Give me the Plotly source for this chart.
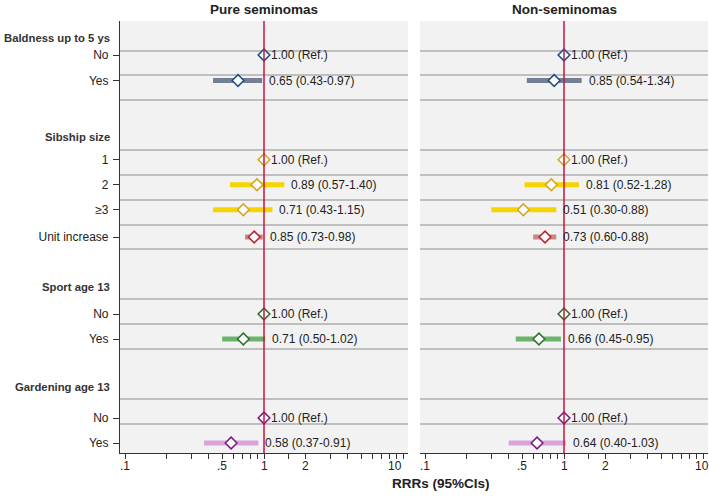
import math
import plotly.graph_objects as go

# ---------------- data ----------------
headers = ["Baldness up to 5 ys", "Sibship size", "Sport age 13", "Gardening age 13"]
header_pos = [0.68, 4.64, 10.64, 14.64]

row_labels = ["No", "Yes", "1", "2", "\u22653", "Unit increase", "No", "Yes", "No", "Yes"]
row_group = [0, 0, 1, 1, 1, 2, 3, 3, 4, 4]
row_pos = [1.36, 2.38, 5.55, 6.55, 7.55, 8.64, 11.72, 12.72, 15.88, 16.88]
gridline_pos = [1.2, 2.16, 3.16, 5.16, 6.16, 7.16, 8.16, 9.12, 11.12, 12.12, 13.12, 15.12, 16.12]

# Pure seminomas
pure_est = [1.00, 0.65, 1.00, 0.89, 0.71, 0.85, 1.00, 0.71, 1.00, 0.58]
pure_lo = [1.00, 0.43, 1.00, 0.57, 0.43, 0.73, 1.00, 0.50, 1.00, 0.37]
pure_hi = [1.00, 0.97, 1.00, 1.40, 1.15, 0.98, 1.00, 1.02, 1.00, 0.91]
# Non-seminomas
non_est = [1.00, 0.85, 1.00, 0.81, 0.51, 0.73, 1.00, 0.66, 1.00, 0.64]
non_lo = [1.00, 0.54, 1.00, 0.52, 0.30, 0.60, 1.00, 0.45, 1.00, 0.40]
non_hi = [1.00, 1.34, 1.00, 1.28, 0.88, 0.88, 1.00, 0.95, 1.00, 1.03]

bar_colors = ["#737f94", "#f7d300", "#c48a8a", "#6cb36c", "#dba2dc"]
marker_colors = ["#1c4e86", "#d6a425", "#c0202e", "#2f6e2f", "#7d1a80"]

x_tickvals = [0.1, 0.2, 0.3, 0.4, 0.5, 0.6, 0.7, 0.8, 0.9, 1, 1.5, 2, 3, 4, 5, 6, 7, 8, 9, 10]
x_ticktext = [".1", "", "", "", ".5", "", "", "", "", "1", "", "2", "", "", "", "", "", "", "", "10"]

panel_titles = ["Pure seminomas", "Non-seminomas"]
x_title = "RRRs (95%CIs)"

FONT = "Liberation Sans, Arial, sans-serif"
TXT = "#222222"
W, H = 709, 499
ytop_px, ybot_px = 21, 453
nrow_units = (ybot_px - ytop_px) / 25.0
pad = 0.036  # plot-region margin in decades

fig = go.Figure()

panels = [(pure_est, pure_lo, pure_hi), (non_est, non_lo, non_hi)]
xaxes = ["x", "x2"]
domains = [[120 / W, 408 / W], [420 / W, 708 / W]]


def fmt(e, l, h):
    if e == 1.0 and l == 1.0 and h == 1.0:
        return "1.00 (Ref.)"
    return f"{e:.2f} ({l:.2f}-{h:.2f})"


for p, (est, lo, hi) in enumerate(panels):
    xa = xaxes[p]
    ya = "y" if p == 0 else "y2"
    # CI bars per group
    for g in range(5):
        xs, ys = [], []
        for i in range(len(est)):
            if row_group[i] == g and lo[i] != hi[i]:
                xs += [lo[i], hi[i], None]
                ys += [row_pos[i], row_pos[i], None]
        if xs:
            fig.add_trace(go.Scatter(x=xs, y=ys, mode="lines",
                                     line=dict(color=bar_colors[g], width=5),
                                     xaxis=xa, yaxis=ya, hoverinfo="skip", showlegend=False))
    # markers per group
    for g in range(5):
        idx = [i for i in range(len(est)) if row_group[i] == g]
        fig.add_trace(go.Scatter(x=[est[i] for i in idx], y=[row_pos[i] for i in idx],
                                 mode="markers",
                                 marker=dict(symbol="diamond", size=9, color="white",
                                             line=dict(color=marker_colors[g], width=1.5)),
                                 xaxis=xa, yaxis=ya, showlegend=False))
    # value labels
    for i in range(len(est)):
        fig.add_annotation(x=math.log10(hi[i]), y=row_pos[i], xref=xa, yref=ya,
                           text=fmt(est[i], lo[i], hi[i]), showarrow=False,
                           xanchor="left", yanchor="middle", xshift=5,
                           font=dict(family=FONT, size=12, color=TXT))
    # gridlines
    for gy in gridline_pos:
        fig.add_shape(type="line", xref=f"{xa} domain", yref=ya, x0=0, x1=1, y0=gy, y1=gy,
                      line=dict(color="#8c8c8c", width=1), layer="below")
    # reference line
    fig.add_shape(type="line", xref=xa, yref=f"{ya} domain", x0=1, x1=1, y0=0, y1=1,
                  line=dict(color="#c4143c", width=1.5), layer="above")
    # panel title
    fig.add_annotation(x=sum(domains[p]) / 2, y=1 - 9 / H, xref="paper", yref="paper",
                       text=f"<b>{panel_titles[p]}</b>", showarrow=False,
                       xanchor="center", yanchor="middle",
                       font=dict(family=FONT, size=13.5, color=TXT))
    # x tick labels
    for tv, tt in zip(x_tickvals, x_ticktext):
        if not tt:
            continue
        anchor, shift = "center", 0
        if tv == x_tickvals[-1]:
            if p == 0:
                anchor, shift = "right", 1
            else:
                shift = -1
        fig.add_annotation(x=math.log10(tv), y=1 - 466 / H, xref=xa, yref="paper",
                           text=tt, showarrow=False, xanchor=anchor, yanchor="middle",
                           xshift=shift, font=dict(family=FONT, size=12, color=TXT))

# group headers
for h, hp in zip(headers, header_pos):
    fig.add_annotation(x=112 / W, y=hp, xref="paper", yref="y", text=f"<b>{h}</b>",
                       showarrow=False, xanchor="right", yanchor="middle",
                       font=dict(family=FONT, size=11.3, color="#333333"))

# x title
fig.add_annotation(x=441 / W, y=1 - 483 / H, xref="paper", yref="paper",
                   text=f"<b>{x_title}</b>", showarrow=False, xanchor="center", yanchor="middle",
                   font=dict(family=FONT, size=13.5, color=TXT))

xaxis_common = dict(type="log", range=[-1 - pad, 1 + pad], tickvals=x_tickvals, showticklabels=False,
                    ticks="outside", ticklen=5, tickwidth=1, tickcolor="#333333",
                    showline=True, linecolor="#333333", linewidth=1.2, showgrid=False,
                    zeroline=False, fixedrange=True, automargin=False)

ydomain = [1 - ybot_px / H, 1 - ytop_px / H]

fig.update_layout(
    width=W, height=H,
    margin=dict(l=0, r=0, t=0, b=0),
    paper_bgcolor="white",
    plot_bgcolor="#f2f2f2",
    showlegend=False,
    xaxis=dict(xaxis_common, domain=domains[0], anchor="y"),
    xaxis2=dict(xaxis_common, domain=domains[1], anchor="y2"),
    yaxis=dict(domain=ydomain, range=[nrow_units, 0], tickvals=row_pos, ticktext=row_labels,
               ticks="outside", ticklen=6, tickwidth=1, tickcolor="#333333",
               showline=True, linecolor="#333333", linewidth=1.2, showgrid=False,
               zeroline=False, tickfont=dict(family=FONT, size=12, color=TXT),
               anchor="x", automargin=False, ticklabelstandoff=2),
    yaxis2=dict(domain=ydomain, range=[nrow_units, 0], showticklabels=False, ticks="",
                showline=False, showgrid=False, zeroline=False, anchor="x2", matches="y"),
)

fig.write_html("out.html")
